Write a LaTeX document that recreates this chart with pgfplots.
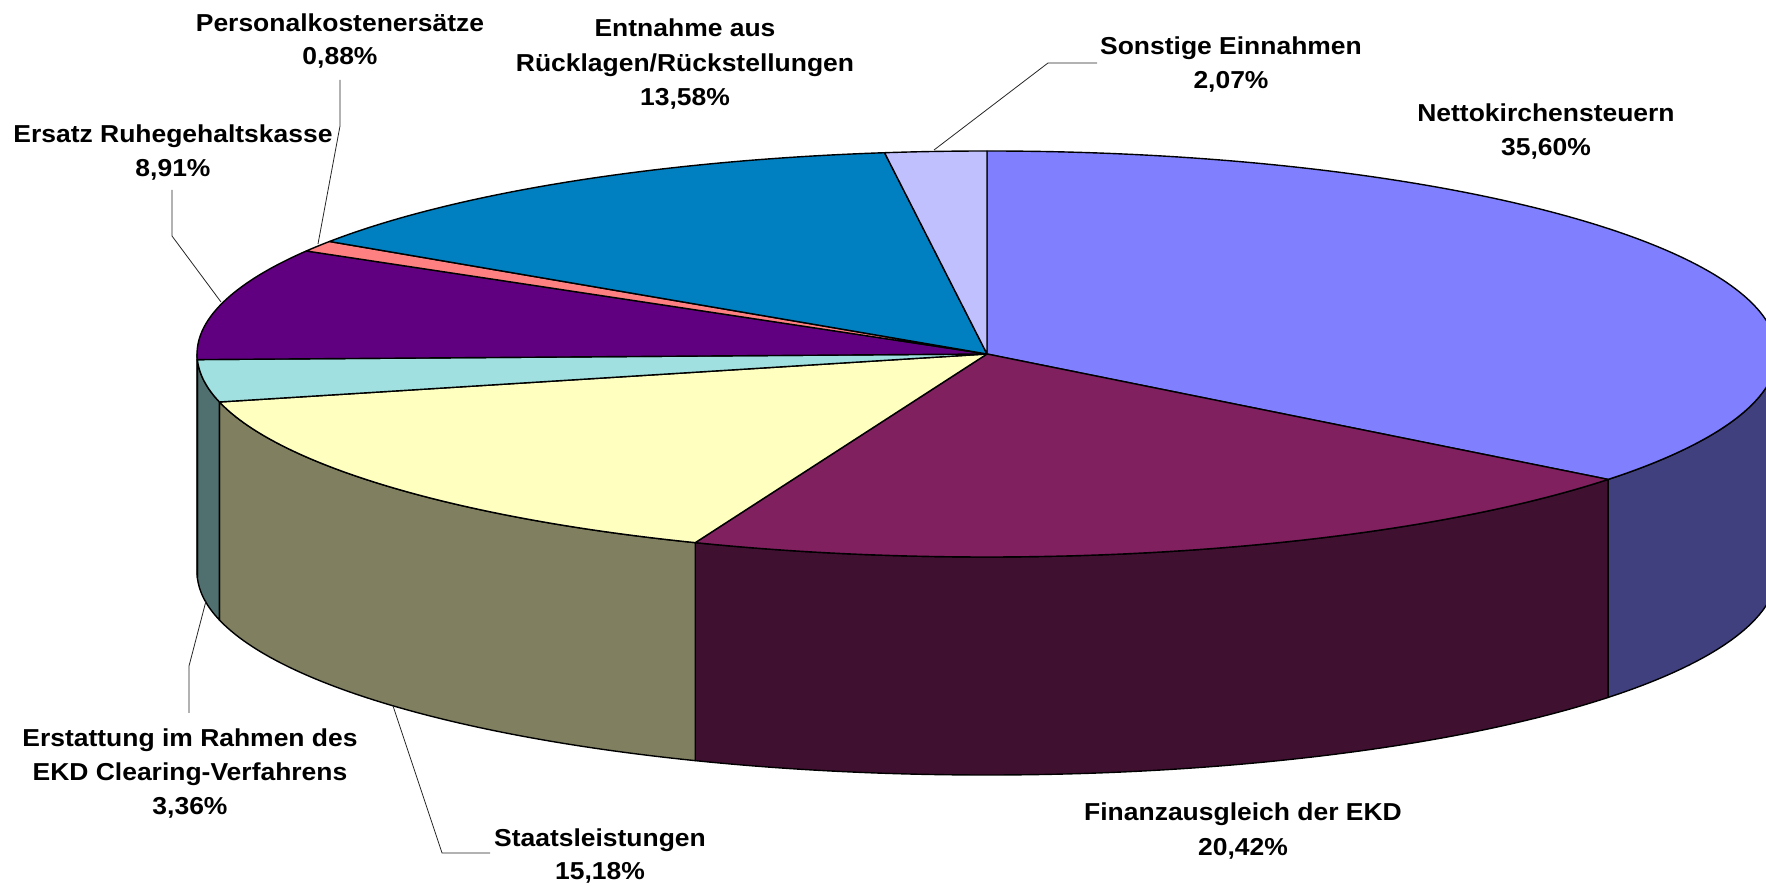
\documentclass[border=0pt]{standalone}
\usepackage{pgfplots}
\pgfplotsset{compat=1.18}
\usepackage{fontspec}
\setmainfont{Liberation Sans}[FakeStretch=1.08]
\definecolor{cNetTop}{HTML}{8080FF}\definecolor{cNetSide}{HTML}{40407F}
\definecolor{cFinTop}{HTML}{80205F}\definecolor{cFinSide}{HTML}{401030}
\definecolor{cStaTop}{HTML}{FFFFC0}\definecolor{cStaSide}{HTML}{808060}
\definecolor{cErsTop}{HTML}{A0E0E0}\definecolor{cErsSide}{HTML}{507070}
\definecolor{cRuhTop}{HTML}{600080}\definecolor{cRuhSide}{HTML}{300040}
\definecolor{cPerTop}{HTML}{FF8080}
\definecolor{cEntTop}{HTML}{0080C0}
\definecolor{cSonTop}{HTML}{C0C0FF}
% shares in percent
\def\pNet{35.60}\def\pFin{20.42}\def\pSta{15.18}\def\pErs{3.36}
\def\pRuh{8.91}\def\pPer{0.88}\def\pEnt{13.58}\def\pSon{2.07}
\newcommand\topslice[3]{\fill[#3,draw=black,line width=1.4pt,line join=round] (axis cs:987,532) -- ++(#1:790pt and 203pt) arc[start angle=#1,end angle=#2,x radius=790pt,y radius=203pt] -- cycle;}
\newcommand\sideslice[3]{\fill[#3,draw=black,line width=1.4pt,line join=round] (axis cs:987,532) ++(#1:790pt and 203pt) arc[start angle=#1,end angle=#2,x radius=790pt,y radius=203pt] -- ++(0pt,-218pt) arc[start angle=#2,end angle=#1,x radius=790pt,y radius=203pt] -- cycle;}
\begin{document}
\begin{tikzpicture}[every node/.style={font=\fontsize{24.5}{30}\selectfont\bfseries,inner sep=0pt,anchor=base}]
\useasboundingbox (0,0) rectangle (1766pt,886pt);
\pgfmathsetmacro\aO{90}
\pgfmathsetmacro\aI{\aO-3.6*\pNet}
\pgfmathsetmacro\aII{\aI-3.6*\pFin}
\pgfmathsetmacro\aIII{\aII-3.6*\pSta}
\pgfmathsetmacro\aIV{\aIII-3.6*\pErs}
\pgfmathsetmacro\aV{\aIV-3.6*\pRuh}
\pgfmathsetmacro\aVI{\aV-3.6*\pPer}
\pgfmathsetmacro\aVII{\aVI-3.6*\pEnt}
\pgfmathsetmacro\aVIII{\aVII-3.6*\pSon}
\begin{axis}[x=1pt,y=1pt,xmin=0,xmax=1766,ymin=0,ymax=886,hide axis,clip=false,
  anchor=origin,at={(0,0)}]
% side walls (front half only)
\sideslice{0}{\aI}{cNetSide}
\sideslice{\aI}{\aII}{cFinSide}
\sideslice{\aII}{\aIII}{cStaSide}
\sideslice{\aIII}{\aIV}{cErsSide}
\sideslice{\aIV}{-180}{cRuhSide}
% top faces
\topslice{\aO}{\aI}{cNetTop}
\topslice{\aI}{\aII}{cFinTop}
\topslice{\aII}{\aIII}{cStaTop}
\topslice{\aIII}{\aIV}{cErsTop}
\topslice{\aIV}{\aV}{cRuhTop}
\topslice{\aV}{\aVI}{cPerTop}
\topslice{\aVI}{\aVII}{cEntTop}
\topslice{\aVII}{\aVIII}{cSonTop}
% leader lines
\draw[line width=0.8pt,black!85] (axis cs:1097,823) -- (axis cs:1048,823) -- (axis cs:934,736);
\draw[line width=0.8pt,black!85] (axis cs:340,806) -- (axis cs:340,760) -- (axis cs:318,642);
\draw[line width=0.8pt,black!85] (axis cs:172,696) -- (axis cs:172,650) -- (axis cs:221,584);
\draw[line width=0.8pt,black!85] (axis cs:189,173) -- (axis cs:189,220) -- (axis cs:206,285);
\draw[line width=0.8pt,black!85] (axis cs:490,33) -- (axis cs:442,33) -- (axis cs:393,180);
% labels
\node at (axis cs:1546,764) {Nettokirchensteuern};
\node at (axis cs:1546,730) {35,60\%};
\node at (axis cs:1243,66) {Finanzausgleich der EKD};
\node at (axis cs:1243,31) {20,42\%};
\node at (axis cs:600,40) {Staatsleistungen};
\node at (axis cs:600,6.5) {15,18\%};
\node at (axis cs:190,139.5) {Erstattung im Rahmen des};
\node at (axis cs:190,106) {EKD Clearing-Verfahrens};
\node at (axis cs:190,71) {3,36\%};
\node at (axis cs:173,743) {Ersatz Ruhegehaltskasse};
\node at (axis cs:173,709) {8,91\%};
\node at (axis cs:340,854) {Personalkostenersätze};
\node at (axis cs:340,821) {0,88\%};
\node at (axis cs:685,849.5) {Entnahme aus};
\node at (axis cs:685,814.5) {Rücklagen/Rückstellungen};
\node at (axis cs:685,780) {13,58\%};
\node at (axis cs:1231,831) {Sonstige Einnahmen};
\node at (axis cs:1231,797) {2,07\%};
\end{axis}
\end{tikzpicture}
\end{document}
